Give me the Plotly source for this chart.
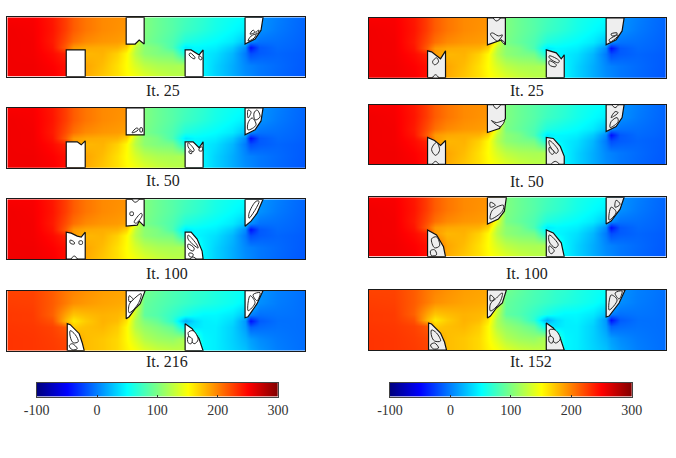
import plotly.graph_objects as go

W, H = 676, 458

# temperature field (rows bottom to top)
field_x = [0, 25, 45, 58, 66, 78, 95, 110, 119, 128, 137, 150, 165, 178, 187, 196, 208, 225, 238, 243, 252, 270, 285, 298]
field_y = [0, 12, 24, 30, 36, 48, 60]
field_early = [
    [255, 255, 252, 244, 210, 183, 172, 162, 152, 146, 138, 130, 124, 122, 85, 46, 33, 18, 6, 3, -3, -9, -13, -16],
    [255, 255, 250, 244, 215, 185, 176, 162, 150, 135, 124, 118, 116, 118, 70, 46, 33, 18, 4, 1, -3, -8, -12, -15],
    [255, 254, 246, 236, 190, 178, 180, 168, 152, 122, 106, 100, 96, 58, 48, 44, 38, 22, -2, -20, -14, -10, -12, -14],
    [255, 254, 242, 214, 190, 184, 182, 180, 168, 125, 105, 98, 80, 42, 48, 47, 44, 30, 5, -45, -15, -8, -10, -13],
    [255, 254, 240, 220, 206, 196, 191, 189, 186, 140, 98, 90, 80, 62, 58, 54, 50, 42, 26, 5, -5, -6, -9, -12],
    [255, 253, 242, 226, 214, 204, 196, 193, 191, 160, 100, 92, 84, 74, 70, 65, 58, 50, 44, 30, 7, -2, -7, -11],
    [252, 252, 241, 226, 214, 204, 196, 194, 193, 160, 100, 92, 84, 77, 72, 68, 60, 54, 50, 40, 8, 0, -6, -10],
]
field_final = [
    [230, 229, 227, 224, 190, 176, 172, 165, 155, 148, 138, 130, 126, 124, 88, 48, 44, 34, 26, 18, 10, 0, -4, -7],
    [230, 229, 226, 222, 190, 176, 172, 165, 152, 135, 120, 112, 108, 118, 75, 48, 44, 32, 20, 12, 5, -2, -5, -7],
    [229, 228, 224, 215, 170, 175, 178, 170, 152, 120, 108, 100, 88, 45, 40, 44, 44, 32, 12, -12, -8, -5, -6, -7],
    [228, 227, 218, 178, 158, 170, 180, 176, 160, 118, 100, 90, 68, 18, 36, 44, 46, 36, 10, -45, -14, -6, -6, -7],
    [228, 227, 212, 186, 172, 176, 180, 178, 172, 125, 88, 82, 70, 58, 52, 48, 48, 42, 26, 0, -6, -4, -5, -7],
    [226, 225, 214, 202, 194, 190, 186, 184, 182, 140, 90, 84, 78, 72, 68, 64, 60, 54, 46, 30, 6, -1, -4, -7],
    [224, 224, 214, 203, 198, 193, 188, 186, 185, 140, 95, 88, 80, 75, 70, 68, 62, 56, 52, 40, 8, 0, -3, -6],
]
bar_values = [-100, -50, 0, 50, 100, 150, 200, 250, 300]
bar_ticks = [-100, 0, 100, 200, 300]
bar_labels = ["-100", "0", "100", "200", "300"]

# material outlines per panel, in field coordinates
L25_blocks = [
    [(59, 0), (59, 27), (78, 27), (78, 0)],
    [(119, 60), (119, 33), (128, 33), (132, 37), (137, 33), (137, 60)],
    [(178, 0), (178, 27), (184, 27), (192, 22), (196, 27), (196, 0)],
    [(238, 60), (238, 33), (248, 38), (254, 47), (256, 60)],
]
L25_holes = [
    [(183, 24), (188, 19), (187, 18), (182, 22)],
    [(192, 21), (195, 19), (194, 17), (192, 18)],
    [(241, 36), (247, 39), (249, 43), (244, 41)],
    [(243, 43), (246, 47), (248, 45)],
    [(249, 45), (252, 47), (250, 43)],
]
L50_blocks = [
    [(59, 0), (59, 26), (70, 26), (74, 23), (78, 27), (78, 0)],
    [(119, 60), (119, 33), (137, 33), (137, 60)],
    [(178, 0), (178, 26), (186, 26), (192, 20), (196, 26), (196, 0)],
    [(238, 60), (238, 33), (248, 38), (254, 47), (256, 60)],
]
L50_holes = [
    [(125, 35), (131, 38), (130, 40), (126, 37)],
    [(133, 36), (135, 36), (135, 40), (133, 40)],
    [(181, 25), (187, 18), (186, 16), (181, 21)],
    [(182, 17), (185, 15), (184, 14), (182, 15)],
    [(192, 19), (195, 21), (195, 17), (192, 17)],
    [(241, 38), (249, 43), (245, 50), (241, 45)],
    [(248, 48), (253, 51), (250, 58), (247, 55)],
    [(241, 50), (244, 56), (241, 58)],
]
L100_blocks = [
    [(59, 0), (59, 27), (64, 26), (70, 23), (74, 22), (78, 27), (78, 0)],
    [(119, 60), (119, 33), (130, 34), (132, 38), (137, 33), (137, 60)],
    [(178, 0), (178, 27), (184, 27), (190, 20), (195, 8), (196, 0)],
    [(238, 60), (238, 33), (244, 38), (250, 46), (256, 60)],
]
L100_holes = [
    [(63, 19), (67, 17), (67, 15), (63, 16)],
    [(72, 18), (75, 18), (75, 15), (72, 15)],
    [(64, 0), (67, 3), (70, 0)],
    [(127, 37), (134, 46), (135, 44), (129, 36)],
    [(123, 47), (126, 47), (126, 44), (123, 44)],
    [(125, 60), (128, 57), (132, 60)],
    [(181, 24), (190, 14), (191, 11), (181, 20)],
    [(181, 15), (187, 11), (186, 8), (181, 11)],
    [(182, 6), (186, 5), (185, 2), (182, 3)],
    [(183, 0), (186, 2), (189, 0)],
    [(242, 41), (252, 58), (249, 58), (242, 46)],
]
L216_blocks = [
    [(60, 0), (60, 27), (63, 26), (72, 17), (75, 8), (77, 0)],
    [(119, 60), (119, 32), (122, 34), (128, 42), (133, 47), (138, 60)],
    [(178, 0), (178, 27), (185, 22), (192, 12), (196, 0)],
    [(238, 60), (238, 33), (241, 34), (250, 47), (256, 60)],
]
L216_holes = [
    [(63, 20), (68, 16), (71, 9), (66, 8), (63, 14)],
    [(62, 5), (65, 7), (70, 2), (65, 1)],
    [(122, 38), (131, 47), (134, 57), (127, 52), (122, 46)],
    [(122, 55), (126, 51), (122, 49)],
    [(181, 18), (186, 20), (191, 11), (187, 7)],
    [(181, 14), (185, 12), (184, 7), (181, 8)],
    [(241, 40), (248, 48), (243, 55)],
    [(246, 56), (250, 50), (253, 58)],
]
R25_blocks = [
    [(59, 0), (59, 27), (63, 26), (72, 19), (77, 27), (77, 0)],
    [(119, 60), (119, 33), (133, 38), (137, 33), (137, 60)],
    [(178, 0), (178, 28), (188, 25), (193, 19), (196, 23), (196, 0)],
    [(238, 60), (238, 33), (248, 38), (254, 47), (256, 60)],
]
R25_holes = [
    [(64, 0), (67, 3), (70, 0)],
    [(64, 16), (68, 20), (70, 16), (66, 13)],
    [(122, 44), (129, 37), (134, 43), (130, 42), (124, 45)],
    [(133, 37), (136, 36), (136, 34)],
    [(125, 60), (128, 57), (132, 60)],
    [(181, 22), (191, 17), (190, 15), (181, 20)],
    [(181, 17), (188, 13), (187, 11), (181, 13)],
    [(241, 38), (250, 43), (249, 41), (242, 36)],
    [(243, 44), (249, 45), (248, 43), (244, 42)],
]
R50_blocks = [
    [(59, 0), (59, 27), (66, 24), (72, 19), (77, 24), (77, 0)],
    [(119, 60), (119, 32), (131, 36), (137, 46), (137, 60)],
    [(178, 0), (178, 27), (185, 26), (192, 18), (196, 8), (196, 0)],
    [(238, 60), (238, 33), (248, 38), (254, 47), (256, 60)],
]
R50_holes = [
    [(64, 0), (67, 3), (70, 0)],
    [(63, 15), (68, 22), (71, 14), (67, 9)],
    [(123, 44), (132, 38), (136, 44), (128, 42)],
    [(125, 60), (128, 56), (132, 60)],
    [(181, 24), (190, 14), (188, 11), (181, 20)],
    [(181, 17), (186, 12), (184, 10), (181, 13)],
    [(183, 0), (187, 3), (191, 0)],
    [(242, 37), (250, 43), (249, 47), (243, 43)],
    [(243, 47), (250, 52), (247, 53)],
    [(244, 60), (247, 57), (250, 60)],
]
R100_blocks = [
    [(59, 0), (59, 27), (68, 22), (75, 10), (77, 0)],
    [(119, 60), (119, 33), (130, 38), (136, 46), (138, 60)],
    [(178, 0), (178, 27), (185, 24), (193, 14), (196, 0)],
    [(238, 60), (238, 33), (243, 36), (252, 48), (256, 60)],
]
R100_holes = [
    [(63, 18), (68, 20), (71, 11), (66, 9)],
    [(62, 6), (66, 7), (68, 2), (63, 1)],
    [(122, 38), (134, 46), (135, 52), (124, 47)],
    [(122, 55), (127, 52), (122, 50)],
    [(181, 22), (190, 12), (187, 9), (181, 15)],
    [(181, 11), (186, 6), (183, 3), (181, 5)],
    [(241, 37), (248, 45), (243, 50)],
    [(247, 50), (252, 53), (248, 57)],
]
R152_blocks = [
    [(60, 0), (60, 27), (63, 26), (72, 17), (76, 8), (78, 0)],
    [(119, 60), (119, 32), (122, 34), (128, 42), (134, 47), (138, 60)],
    [(178, 0), (178, 27), (185, 22), (192, 12), (196, 0)],
    [(238, 60), (238, 33), (241, 34), (251, 47), (257, 60)],
]
R152_holes = [
    [(63, 20), (68, 17), (72, 9), (66, 9), (63, 14)],
    [(62, 5), (66, 7), (70, 2), (65, 1)],
    [(122, 39), (131, 47), (134, 57), (127, 51), (122, 46)],
    [(122, 55), (126, 51), (122, 49)],
    [(181, 20), (187, 20), (192, 11), (187, 7)],
    [(181, 14), (185, 12), (184, 7), (181, 8)],
    [(241, 40), (249, 50), (243, 55)],
    [(247, 57), (251, 51), (254, 59)],
]

jet = [
    [0, "#00007f"], [0.125, "#0000ff"], [0.375, "#00ffff"],
    [0.625, "#ffff00"], [0.875, "#ff0000"], [1, "#7f0000"],
]
serif = "Liberation Serif"
edge = "#1a1a1a"

# label, field, outlines, fill, left, right, top, bottom, label centre
panels = [
    ("It. 25", field_early, L25_blocks, L25_holes, "white", 7.3, 305, 17.3, 76.7, 163, 90),
    ("It. 50", field_early, L50_blocks, L50_holes, "white", 7.3, 305, 108, 167.7, 163, 180),
    ("It. 100", field_early, L100_blocks, L100_holes, "white", 7.3, 305, 199.3, 259, 167, 273),
    ("It. 216", field_final, L216_blocks, L216_holes, "white", 7.3, 305, 290.7, 350.7, 167, 361),
    ("It. 25", field_early, R25_blocks, R25_holes, "#eeeeee", 368.7, 666, 18, 77.7, 527, 90),
    ("It. 50", field_early, R50_blocks, R50_holes, "#eeeeee", 368.7, 666, 104.7, 164.3, 527, 181),
    ("It. 100", field_early, R100_blocks, R100_holes, "#eeeeee", 368.7, 666, 197.3, 256.7, 527, 273),
    ("It. 152", field_final, R152_blocks, R152_holes, "#eeeeee", 368.7, 666, 290, 350, 531, 361),
]


def add_loop(fig, pts, fill, width, n, shape="linear"):
    xs = [p[0] for p in pts] + [pts[0][0]]
    ys = [p[1] for p in pts] + [pts[0][1]]
    fig.add_trace(go.Scatter(x=xs, y=ys, mode="lines", fill="toself", fillcolor=fill,
                             line=dict(color="#111111", width=width, shape=shape),
                             hoverinfo="skip", showlegend=False, xaxis=f"x{n}", yaxis=f"y{n}"))


fig = go.Figure()
layout = {}
n = 0
for label, z, blocks, holes, fill, x0, x1, y0, y1, lx, ly in panels:
    n += 1
    fig.add_trace(go.Heatmap(x=field_x, y=field_y, z=z, zmin=-100, zmax=300, zsmooth="best",
                             colorscale=jet, showscale=False, xaxis=f"x{n}", yaxis=f"y{n}"))
    for pts in blocks:
        add_loop(fig, pts, fill, 1.2, n)
    for pts in holes:
        add_loop(fig, pts, fill, 0.9, n, shape="spline")
    layout[f"xaxis{n}"] = dict(domain=[x0 / W, x1 / W], range=[0, 298], showticklabels=False, automargin=False,
                               ticks="", showgrid=False, zeroline=False, showline=True, mirror=True,
                               linecolor=edge, linewidth=1.2, anchor=f"y{n}")
    layout[f"yaxis{n}"] = dict(domain=[1 - y1 / H, 1 - y0 / H], range=[0, 60], showticklabels=False, automargin=False,
                               ticks="", showgrid=False, zeroline=False, showline=True, mirror=True,
                               linecolor=edge, linewidth=1.2, anchor=f"x{n}")
    fig.add_annotation(x=lx / W, y=1 - ly / H, xref="paper", yref="paper", text=label, showarrow=False,
                       font=dict(family=serif, size=16, color="#222222"), xanchor="center", yanchor="middle")

# the two colour scales
for x0, x1 in [(36.7, 278), (390, 631.7)]:
    n += 1
    fig.add_trace(go.Heatmap(x=bar_values, y=[0, 1], z=[bar_values, bar_values], zmin=-100, zmax=300,
                             zsmooth="best", colorscale=jet, showscale=False, xaxis=f"x{n}", yaxis=f"y{n}"))
    layout[f"xaxis{n}"] = dict(domain=[x0 / W, x1 / W], range=[-100, 300], tickvals=bar_ticks, ticktext=bar_labels,
                               ticks="inside", ticklen=2, tickcolor="#333333", tickwidth=1, automargin=False,
                               tickfont=dict(family=serif, size=14, color="#333333"), showgrid=False,
                               zeroline=False, showline=True, mirror=True, linecolor="#444444",
                               linewidth=1, anchor=f"y{n}")
    layout[f"yaxis{n}"] = dict(domain=[1 - 396.7 / H, 1 - 382.5 / H], range=[0, 1], showticklabels=False,
                               ticks="", showgrid=False, zeroline=False, showline=True, mirror=True,
                               linecolor="#444444", linewidth=1, anchor=f"x{n}", automargin=False)

fig.update_layout(width=W, height=H, margin=dict(l=0, r=0, t=0, b=0), paper_bgcolor="white",
                  plot_bgcolor="white", showlegend=False, **layout)
fig.write_html("out.html", config={"displayModeBar": False}, post_script="document.body.style.margin='0';")
